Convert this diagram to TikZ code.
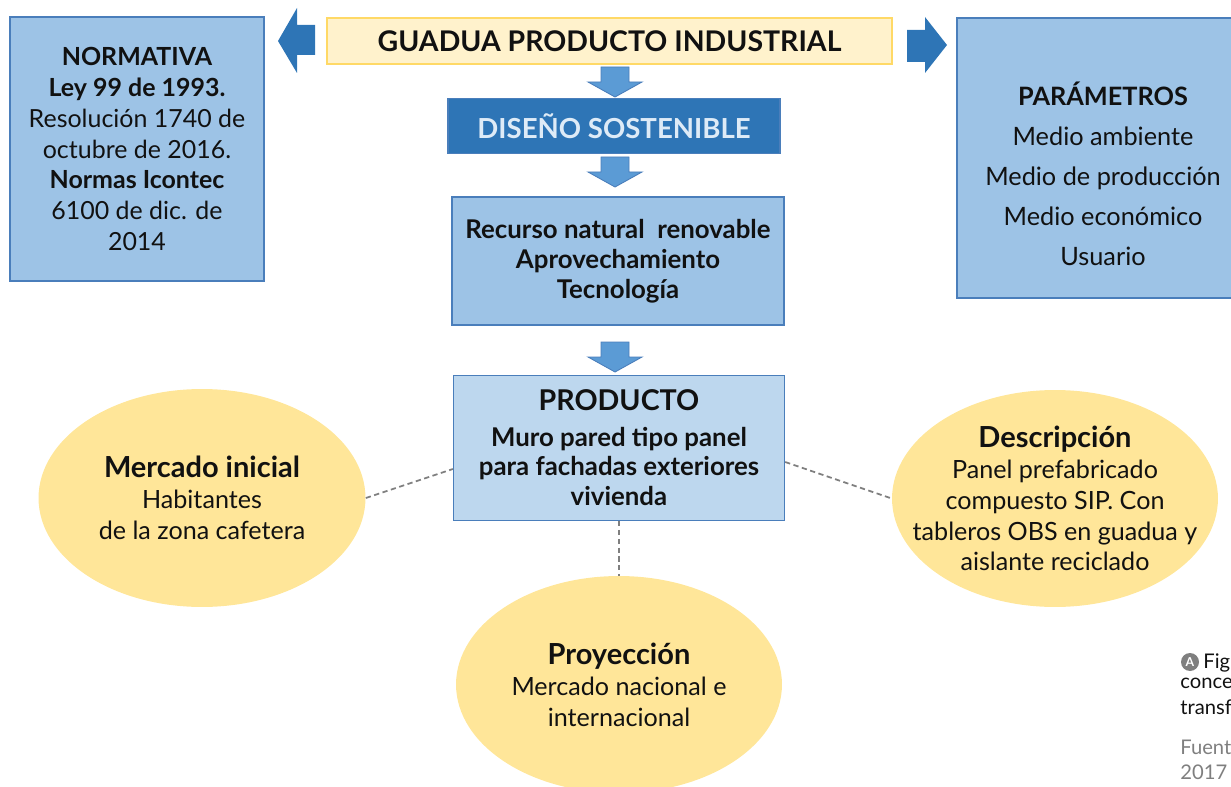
\documentclass[tikz,border=0pt]{standalone}
\usepackage{fontspec}
\setmainfont{Lato}
\usepackage{xcolor}
\usetikzlibrary{calc, shapes.geometric}

\definecolor{boxblue}{HTML}{9DC3E6}
\definecolor{boxlight}{HTML}{BDD7EE}
\definecolor{darkblue}{HTML}{2E75B6}
\definecolor{edgeblue}{HTML}{4A7EBB}
\definecolor{arrblue}{HTML}{5B9BD5}
\definecolor{titleyellow}{HTML}{FFF2CC}
\definecolor{titleedge}{HTML}{FFD966}
\definecolor{ellyellow}{HTML}{FFE699}
\definecolor{textlight}{HTML}{DEEBF7}
\definecolor{linkgray}{HTML}{7F7F7F}
\definecolor{inkblack}{HTML}{111111}

\tikzset{
  downarrow/.pic={
    \filldraw[fill=arrblue, draw=edgeblue, line width=0.5pt]
      (-14,0) -- (14,0) -- (14,15) -- (27,15) -- (0,30) -- (-27,15) -- (-14,15) -- cycle;
  }
}
\newcommand{\ovalhead}[1]{{\fontsize{16.5}{18}\selectfont\bfseries #1}}

\begin{document}
\begin{tikzpicture}[x=0.02cm, y=-0.02cm,
    infobox/.style={draw=edgeblue, line width=0.8pt, fill=boxblue, align=center,
      inner sep=0pt, text=inkblack},
    oval/.style={ellipse, fill=ellyellow, align=center, inner ysep=0pt, inner xsep=-0.7cm,
      text=inkblack, minimum width=6.54cm, minimum height=4.36cm,
      font=\fontsize{14.3}{17.6}\selectfont},
    link/.style={draw=linkgray, line width=1pt, dash pattern=on 3pt off 2pt},
    bigarrow/.style={fill=darkblue}]
  \useasboundingbox (0,0) rectangle (1231,787);
  \clip (0,0) rectangle (1231,787);

  % top row
  \node[draw=titleedge, line width=0.8pt, fill=titleyellow, text=inkblack,
    minimum width=11.3cm, minimum height=0.92cm, font=\fontsize{16.2}{18}\selectfont\bfseries]
    (title) at (609.5,41) {GUADUA PRODUCTO INDUSTRIAL};
  \fill[bigarrow] (315,25) -- (297,25) -- (297,8) -- (278,41) -- (297,73) -- (297,55) -- (315,55) -- cycle;
  \fill[bigarrow] (907,30) -- (925,30) -- (925,17) -- (947,45) -- (925,73) -- (925,62) -- (907,62) -- cycle;

  \node[infobox, minimum width=5.08cm, minimum height=5.28cm,
    font=\fontsize{14.2}{17.6}\selectfont] (norma) at (137,149)
    {\textbf{NORMATIVA}\\ \textbf{Ley 99 de 1993.}\\ Resolución 1740 de\\ octubre de 2016.\\
     \textbf{Normas Icontec}\\ 6100 de dic. de\\ 2014};
  \node[infobox, minimum width=5.84cm, minimum height=5.6cm] (param) at (1103,158) {};
  \node[align=center, text=inkblack, font=\fontsize{14.4}{22.7}\selectfont] (paramtext) at (1103,174)
    {\textbf{PARÁMETROS}\\ Medio ambiente\\ Medio de producción\\ Medio económico\\ Usuario};

  % central column
  \pic at (615,67) {downarrow};
  \node[draw=edgeblue, line width=0.8pt, fill=darkblue, text=textlight,
    minimum width=6.64cm, minimum height=1.1cm, font=\fontsize{15.7}{18}\selectfont\bfseries]
    (diseno) at (614,126) {DISEÑO SOSTENIBLE};
  \pic at (615,157) {downarrow};
  \node[infobox, minimum width=6.64cm, minimum height=2.56cm,
    font=\fontsize{14.7}{17}\selectfont\bfseries] (recurso) at (618,261)
    {Recurso natural~ renovable\\ Aprovechamiento\\ Tecnología};
  \pic at (615,342) {downarrow};
  \node[infobox, fill=boxlight, minimum width=6.62cm, minimum height=2.9cm,
    font=\fontsize{14.7}{17}\selectfont\bfseries] (prod) at (619,448)
    {{\fontsize{16.3}{18}\selectfont PRODUCTO}\\[3pt] Muro pared tipo panel\\
     para fachadas exteriores\\ vivienda};

  % ovals
  \node[oval] (merc) at (202,498)
    {\ovalhead{Mercado inicial}\\ Habitantes\\ de la zona cafetera};
  \node[oval, minimum width=6.52cm, minimum height=4.34cm] (desc) at (1055,498.5)
    {\ovalhead{Descripción}\\ Panel prefabricado\\ compuesto SIP. Con\\
     tableros OBS en guadua y\\ aislante reciclado};
  \node[oval, minimum width=6.52cm, minimum height=4.34cm] (proy) at (619,684.5)
    {\ovalhead{Proyección}\\ Mercado nacional e\\ internacional};

  \draw[link] (merc.east) -- ($(prod.west)+(0,21)$);
  \draw[link] ($(prod.east)+(0,14)$) -- (desc.west);
  \draw[link] (prod.south) -- (proy.north);

  % caption, cut at the edge
  \node[circle, fill=linkgray, inner sep=0pt, minimum size=0.36cm, text=white,
    font=\fontsize{7}{8}\selectfont\bfseries] (capicon) at (1190,662) {A};
  \node[anchor=west, text=inkblack, inner sep=0pt, font=\fontsize{11.5}{14}\selectfont]
    (capfig) at (1203,663) {Fig};
  \node[anchor=north west, align=left, text=inkblack, inner sep=0pt,
    font=\fontsize{11.5}{14.5}\selectfont] (captext) at (1180,678) {conce\\ transf};
  \node[anchor=north west, align=left, text=linkgray, inner sep=0pt,
    font=\fontsize{11.5}{14}\selectfont] (capsrc) at (1180,740) {Fuent\\ 2017};
\end{tikzpicture}
\end{document}
